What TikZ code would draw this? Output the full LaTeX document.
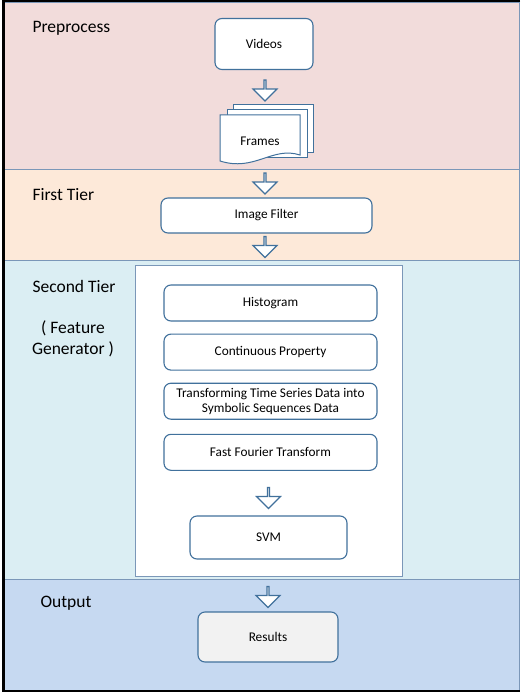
\documentclass[tikz,border=0pt]{standalone}
\usepackage{fontspec}
\setmainfont{Carlito}
\usetikzlibrary{shapes.arrows,positioning}

\definecolor{preBg}{HTML}{F2DCDB}
\definecolor{tierOneBg}{HTML}{FDE9D9}
\definecolor{tierTwoBg}{HTML}{DBEEF3}
\definecolor{outBg}{HTML}{C6D9F1}
\definecolor{lineBlue}{HTML}{41719C}
\definecolor{bandLine}{HTML}{7B97B8}

\begin{document}
\begin{tikzpicture}[
    x=1pt, y=-1pt,
    font=\fontsize{13.3}{15}\selectfont,
    box/.style={draw=lineBlue, fill=white, rounded corners=7pt, align=center, line width=1.1pt, inner sep=1pt},
    band/.style={draw=bandLine, line width=0.8pt},
    docpage/.style={draw=lineBlue, fill=white, line width=1pt},
    tier/.style={font=\fontsize{17.5}{21}\selectfont, anchor=base west},
    barrow/.style={draw=lineBlue, fill=white, single arrow, shape border rotate=270, minimum height=21pt, minimum width=24pt, single arrow head extend=6pt, single arrow head indent=0pt, inner sep=0pt, line width=1.1pt}
]
\useasboundingbox (0,0) rectangle (520,692);

% bands
\draw[band, fill=preBg] (4,2) rectangle (519.5,169);
\draw[band, fill=tierOneBg] (4,169) rectangle (519.5,260);
\draw[band, fill=tierTwoBg] (4,260) rectangle (519.5,579);
\draw[band, fill=outBg] (4,579) rectangle (519.5,690);
\draw[line width=2.5pt] (520,1.2) -- (3.5,1.2) -- (3.5,690.8) -- (520,690.8);

\node[tier] (lblPre) at (29,33) {Preprocess};
\node[tier] (lblOne) at (29,201) {First Tier};
\node[tier] (lblTwo) at (29,292) {Second Tier};
\node[tier, anchor=base, align=center] (lblFeat) at (73,354) {( Feature\\Generator )};
\node[tier] (lblOut) at (37,607) {Output};

% preprocess
\node[box, minimum width=98pt, minimum height=51pt] (videos) at (264,44) {Videos};
\node[barrow] (arrA) at (265,90) {};
\draw[docpage] (233,105) rectangle (313,153);
\draw[docpage] (227,110) rectangle (307,158);
\draw[docpage] (220,115) -- (300,115) -- (300,155) .. controls (272,146) and (255,172) .. (220,161) -- cycle;
\node (frames) at (260,141) {Frames};

% first tier
\node[barrow] (arrB) at (265,183) {};
\node[box, minimum width=211pt, minimum height=35pt] (filter) at (266.5,215.5) {Image Filter};
\node[barrow] (arrC) at (265,246.5) {};

% second tier
\node[draw=bandLine, fill=white, line width=1pt, minimum width=267pt, minimum height=311pt] (fgen) at (268.5,420.5) {};
\node[box, minimum width=213pt, minimum height=36pt] (hist) at (270.5,303) {Histogram};
\node[box, minimum width=213pt, minimum height=36pt, below=12pt of hist] (cont) {Continuous Property};
\node[box, minimum width=213pt, minimum height=36pt, below=12pt of cont] (symb) {Transforming Time Series Data into\\Symbolic Sequences Data};
\node[box, minimum width=213pt, minimum height=36pt, below=14pt of symb] (fft) {Fast Fourier Transform};
\node[barrow] (arrD) at (268.5,497.5) {};
\node[box, minimum width=157pt, minimum height=43pt] (svm) at (268.5,537.5) {SVM};

% output
\node[barrow] (arrE) at (268,596.5) {};
\node[box, fill=black!5, minimum width=140pt, minimum height=50pt] (res) at (268,637) {Results};
\end{tikzpicture}
\end{document}
